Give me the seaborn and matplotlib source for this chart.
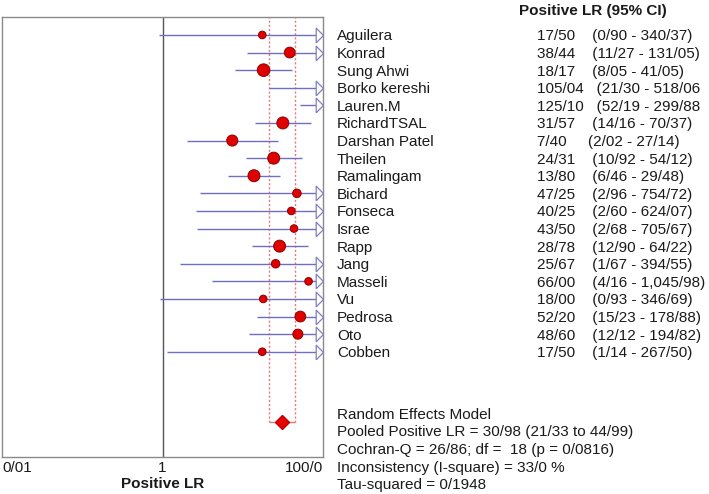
import numpy as np
import pandas as pd
import matplotlib
matplotlib.use("Agg")
import matplotlib.pyplot as plt
import matplotlib.transforms as mtransforms
import seaborn as sns

# study data (decimal separator in the source chart is "/")
studies = ['Aguilera', 'Konrad', 'Sung Ahwi', 'Borko kereshi', 'Lauren.M', 'RichardTSAL',
           'Darshan Patel', 'Theilen', 'Ramalingam', 'Bichard', 'Fonseca', 'Israe', 'Rapp',
           'Jang', 'Masseli', 'Vu', 'Pedrosa', 'Oto', 'Cobben']
lr = [17.50, 38.44, 18.17, 105.04, 125.10, 31.57, 7.40, 24.31, 13.80, 47.25,
      40.25, 43.50, 28.78, 25.67, 66.00, 18.00, 52.20, 48.60, 17.50]
lo = [0.90, 11.27, 8.05, 21.30, 52.19, 14.16, 2.02, 10.92, 6.46, 2.96,
      2.60, 2.68, 12.90, 1.67, 4.16, 0.93, 15.23, 12.12, 1.14]
hi = [340.37, 131.05, 41.05, 518.06, 299.88, 70.37, 27.14, 54.12, 29.48, 754.72,
      624.07, 705.67, 64.22, 394.55, 1045.98, 346.69, 178.88, 194.82, 267.50]
# relative study weight (drives marker size)
weight = [8, 10.7, 12.7, 9, 9, 12, 11, 12, 12, 8.7,
          8, 8, 12, 8.7, 8, 8, 10.7, 10, 8]

lr_labels = ['17/50', '38/44', '18/17', '105/04', '125/10', '31/57', '7/40', '24/31', '13/80',
             '47/25', '40/25', '43/50', '28/78', '25/67', '66/00', '18/00', '52/20', '48/60', '17/50']
ci_labels = ['(0/90 - 340/37)', '(11/27 - 131/05)', '(8/05 - 41/05)', '(21/30 - 518/06',
             '(52/19 - 299/88', '(14/16 - 70/37)', '(2/02 - 27/14)', '(10/92 - 54/12)',
             '(6/46 - 29/48)', '(2/96 - 754/72)', '(2/60 - 624/07)', '(2/68 - 705/67)',
             '(12/90 - 64/22)', '(1/67 - 394/55)', '(4/16 - 1,045/98)', '(0/93 - 346/69)',
             '(15/23 - 178/88)', '(12/12 - 194/82)', '(1/14 - 267/50)']

pooled, pooled_lo, pooled_hi = 30.98, 21.33, 44.99
summary_lines = ['Random Effects Model',
                 'Pooled Positive LR = 30/98 (21/33 to 44/99)',
                 'Cochran-Q = 26/86; df =  18 (p = 0/0816)',
                 'Inconsistency (I-square) = 33/0 %',
                 'Tau-squared = 0/1948']
xticks = [0.01, 1, 100]
xtick_labels = ['0/01', '1', '100/0']

sns.set_theme(style='white')
plt.rcParams['font.family'] = ['Liberation Sans', 'DejaVu Sans']

df = pd.DataFrame({'study': studies, 'lr': lr, 'lo': lo, 'hi': hi, 'weight': weight})
df['row'] = np.arange(len(df))
xmax = 100

fig = plt.figure(figsize=(7.09, 4.94), dpi=100)
ax = fig.add_axes([0.0028, 0.0749, 0.4528, 0.8907])

line_col = '#6f6fbf'
txt_col = '#1a1a1a'

# pooled CI band (dotted)
ax.vlines([pooled_lo, pooled_hi], -1.1, 22, colors='#e27a7a', linestyles=(0, (1.5, 1.5)), lw=1, zorder=1)
ax.hlines(22, pooled_lo, pooled_hi, colors='#e27a7a', lw=1, zorder=1)
ax.axvline(1, color='#555555', lw=1, zorder=1)

# CI lines
ax.hlines(df['row'], df['lo'], np.minimum(df['hi'], xmax), colors=line_col, lw=1, zorder=2)

# arrows for CIs running off the scale
arrow = [(-1, -1), (0, 0), (-1, 1), (-1, -1)]
off = df[df['hi'] > xmax]
ax.plot(np.full(len(off), xmax), off['row'], ls='none', marker=arrow, ms=10.5,
        mfc='white', mec='#8080c0', mew=0.9, clip_on=False, zorder=3)

# study points (estimates beyond the axis are not drawn)
shown = df[df['lr'] <= xmax]
sns.scatterplot(data=shown, x='lr', y='row', size='weight', sizes=(30, 82), size_norm=(8, 12.7),
                color='#e00000', edgecolor='#8b0000', linewidth=0.7, legend=False, ax=ax, zorder=4)

# pooled estimate
ax.plot([pooled], [22], marker='D', ms=7.5, color='#e80000', mec='#c00000', ls='none', zorder=4)

ax.set_xscale('log')
ax.set_xlim(0.01, xmax)
ax.set_ylim(23.98, -1.02)
ax.set_yticks([])
ax.set_xticks(xticks)
ax.set_xticklabels(xtick_labels)
ax.minorticks_off()
ax.tick_params(axis='x', length=0, pad=3, labelsize=11, labelcolor=txt_col)
labs = ax.get_xticklabels()
labs[0].set_horizontalalignment('left')
labs[-1].set_horizontalalignment('right')
ax.set_xlabel('Positive LR', fontsize=11, fontweight='bold', color=txt_col, labelpad=1)
ax.set_ylabel('')
for s in ax.spines.values():
    s.set_color('#8a8a8a')
    s.set_linewidth(1)

# right-hand table
trans = mtransforms.blended_transform_factory(fig.transFigure, ax.transData)
for i in range(len(studies)):
    ax.text(0.4753, i, studies[i], transform=trans, fontsize=11, color=txt_col,
            va='center_baseline', ha='left', clip_on=False)
    ax.text(0.7574, i, f'{lr_labels[i]:<9}{ci_labels[i]}', transform=trans, fontsize=11,
            color=txt_col, va='center_baseline', ha='left', clip_on=False)
for j, line in enumerate(summary_lines):
    ax.text(0.4753, 21.5 + j, line, transform=trans, fontsize=11, color=txt_col,
            va='center_baseline', ha='left', clip_on=False)
fig.text(0.8357, 0.98, 'Positive LR (95% CI)', fontsize=11, fontweight='bold',
         color=txt_col, ha='center', va='center_baseline')

fig.savefig('out.png', dpi=100)
